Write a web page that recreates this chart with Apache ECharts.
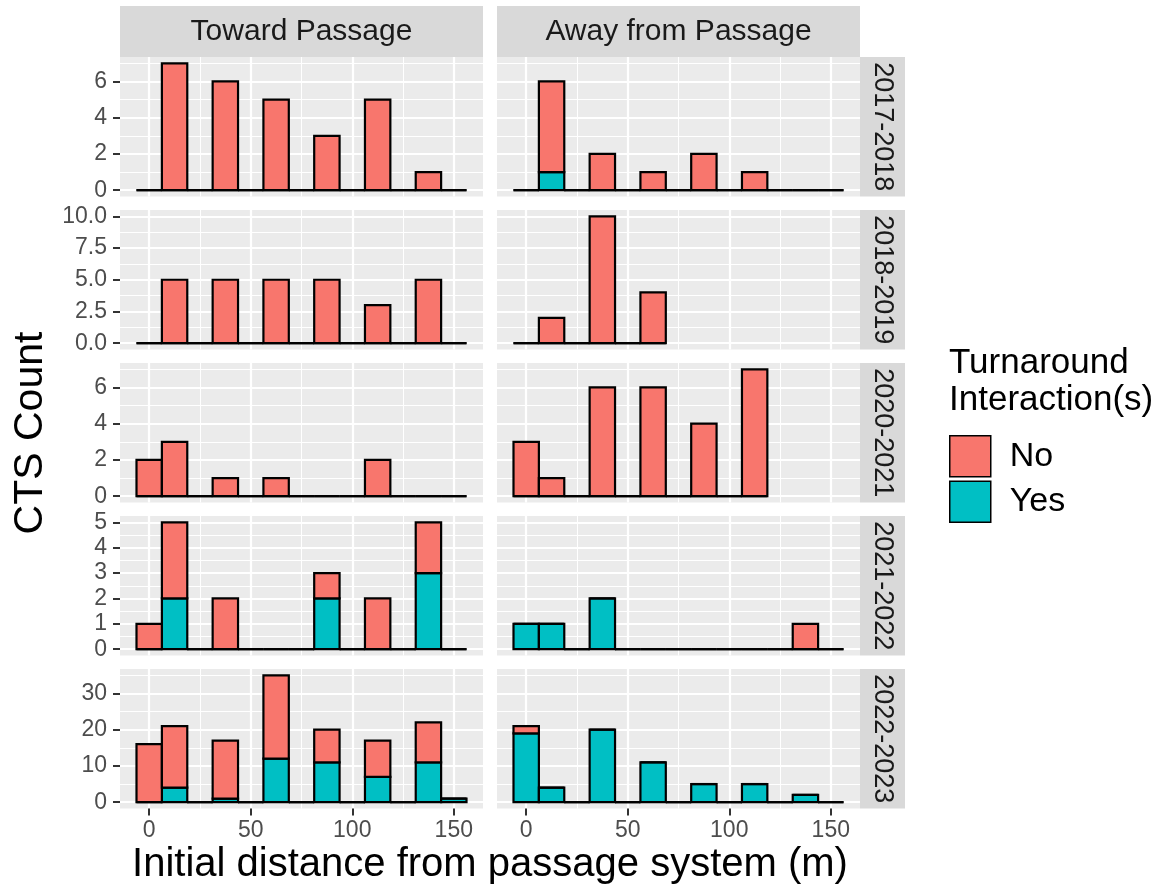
<!DOCTYPE html>
<html><head><meta charset="utf-8">
<script src="https://cdn.jsdelivr.net/npm/echarts@6/dist/echarts.min.js"></script>
<style>html,body{margin:0;padding:0;background:#fff}#c{width:1161px;height:892px}</style>
</head><body><div id="c"></div>
<script>
// ---------------- DATA ----------------
const binCenters = [0, 12.5, 25, 37.5, 50, 62.5, 75, 87.5, 100, 112.5, 125, 137.5, 150];
const binWidth = 12.5;
const columnNames = ['Toward Passage', 'Away from Passage'];
const yearNames = ['2017-2018', '2018-2019', '2020-2021', '2021-2022', '2022-2023'];
const fillNames = ['No', 'Yes'];

// Toward Passage counts per bin
const toward2017No  = [0, 7, 0, 6, 0, 5, 0, 3, 0, 5, 0, 1, 0];
const toward2017Yes = [0, 0, 0, 0, 0, 0, 0, 0, 0, 0, 0, 0, 0];
const toward2018No  = [0, 5, 0, 5, 0, 5, 0, 5, 0, 3, 0, 5, 0];
const toward2018Yes = [0, 0, 0, 0, 0, 0, 0, 0, 0, 0, 0, 0, 0];
const toward2020No  = [2, 3, 0, 1, 0, 1, 0, 0, 0, 2, 0, 0, 0];
const toward2020Yes = [0, 0, 0, 0, 0, 0, 0, 0, 0, 0, 0, 0, 0];
const toward2021No  = [1, 3, 0, 2, 0, 0, 0, 1, 0, 2, 0, 2, 0];
const toward2021Yes = [0, 2, 0, 0, 0, 0, 0, 2, 0, 0, 0, 3, 0];
const toward2022No  = [16, 17, 0, 16, 0, 23, 0, 9, 0, 10, 0, 11, 0];
const toward2022Yes = [0, 4, 0, 1, 0, 12, 0, 11, 0, 7, 0, 11, 1];

// Away from Passage counts per bin
const away2017No  = [0, 5, 0, 2, 0, 1, 0, 2, 0, 1, 0, 0, 0];
const away2017Yes = [0, 1, 0, 0, 0, 0, 0, 0, 0, 0, 0, 0, 0];
const away2018No  = [0, 2, 0, 10, 0, 4];
const away2018Yes = [0, 0, 0, 0, 0, 0];
const away2020No  = [3, 1, 0, 6, 0, 6, 0, 4, 0, 7];
const away2020Yes = [0, 0, 0, 0, 0, 0, 0, 0, 0, 0];
const away2021No  = [0, 0, 0, 0, 0, 0, 0, 0, 0, 0, 0, 1, 0];
const away2021Yes = [1, 1, 0, 2, 0, 0, 0, 0, 0, 0, 0, 0, 0];
const away2022No  = [2, 0, 0, 0, 0, 0, 0, 0, 0, 0, 0, 0, 0];
const away2022Yes = [19, 4, 0, 20, 0, 11, 0, 5, 0, 5, 0, 2, 0];

// Axis ticks
const xMajorTicks = [0, 50, 100, 150];
const xMinorTicks = [25, 75, 125];
const yTicks2017 = [0, 2, 4, 6];           const yMinor2017 = [1, 3, 5, 7];
const yTicks2018 = [0, 2.5, 5, 7.5, 10];   const yMinor2018 = [1.25, 3.75, 6.25, 8.75];
const yLabels2018 = ['0.0', '2.5', '5.0', '7.5', '10.0'];
const yTicks2020 = [0, 2, 4, 6];           const yMinor2020 = [1, 3, 5, 7];
const yTicks2021 = [0, 1, 2, 3, 4, 5];     const yMinor2021 = [0.5, 1.5, 2.5, 3.5, 4.5];
const yTicks2022 = [0, 10, 20, 30];        const yMinor2022 = [5, 15, 25, 35];

// ---------------- BUILD ----------------
const panels = [
  [[toward2017No, toward2017Yes], [away2017No, away2017Yes]],
  [[toward2018No, toward2018Yes], [away2018No, away2018Yes]],
  [[toward2020No, toward2020Yes], [away2020No, away2020Yes]],
  [[toward2021No, toward2021Yes], [away2021No, away2021Yes]],
  [[toward2022No, toward2022Yes], [away2022No, away2022Yes]]
];
const rowTicks = [yTicks2017, yTicks2018, yTicks2020, yTicks2021, yTicks2022];
const rowMinor = [yMinor2017, yMinor2018, yMinor2020, yMinor2021, yMinor2022];
const rowLabelFmt = [null, v => { const i = yTicks2018.indexOf(v); return i >= 0 ? yLabels2018[i] : String(v); }, null, null, null];

const FONT = '"Liberation Sans", Arial, sans-serif';
const COLORS = {No: '#F8766D', Yes: '#00BFC4'};
const colLeft = [120, 497], panelW = 363;
const rowTop = [57, 210, 363, 516, 669], panelH = 139.5;
const xMin = -6.25 - 0.05 * 162.5, xMax = 156.25 + 0.05 * 162.5;

const grids = [], xAxes = [], yAxes = [], series = [];

function renderItem(params, api) {
  const c = api.value(0), y0 = api.value(1), y1 = api.value(2);
  const fill = api.value(3) === 1 ? COLORS.Yes : COLORS.No;
  const pTL = api.coord([c - binWidth / 2, y1]);
  const pBR = api.coord([c + binWidth / 2, y0]);
  if (y1 === y0) {
    return {type: 'line', shape: {x1: pTL[0], y1: pTL[1], x2: pBR[0], y2: pBR[1]},
            style: {stroke: '#000', lineWidth: 2.2}};
  }
  return {type: 'rect',
          shape: {x: pTL[0], y: pTL[1], width: pBR[0] - pTL[0], height: pBR[1] - pTL[1]},
          style: {fill: fill, stroke: '#000', lineWidth: 2.2}};
}

for (let r = 0; r < 5; r++) {
  let rmax = 0;
  for (let c = 0; c < 2; c++) {
    const [no, yes] = panels[r][c];
    no.forEach((v, i) => { rmax = Math.max(rmax, v + yes[i]); });
  }
  const yMin = -0.05 * rmax, yMax = rmax * 1.05;
  for (let c = 0; c < 2; c++) {
    const g = r * 2 + c;
    grids.push({left: colLeft[c], top: rowTop[r], width: panelW, height: panelH,
                show: true, backgroundColor: '#EBEBEB', borderWidth: 0, containLabel: false});
    const isBottom = r === 4, isLeft = c === 0;
    xAxes.push({gridIndex: g, type: 'value', min: xMin, max: xMax, position: 'bottom',
      axisLine: {show: false, onZero: false},
      axisTick: {show: isBottom, customValues: xMajorTicks, length: 7, lineStyle: {color: '#333', width: 2}},
      axisLabel: {show: isBottom, customValues: xMajorTicks, fontSize: 23, color: '#4D4D4D', margin: 11, fontFamily: FONT},
      splitLine: {show: true, lineStyle: {color: '#FFFFFF', width: 2.2}}});
    xAxes.push({gridIndex: g, type: 'value', min: xMin, max: xMax, position: 'bottom',
      axisLine: {show: false, onZero: false},
      axisTick: {show: false, customValues: xMinorTicks},
      axisLabel: {show: false},
      splitLine: {show: true, lineStyle: {color: '#FFFFFF', width: 1.1}}});
    const yLab = {show: isLeft, customValues: rowTicks[r], fontSize: 23, color: '#4D4D4D', margin: 13, fontFamily: FONT};
    if (rowLabelFmt[r]) yLab.formatter = rowLabelFmt[r];
    yAxes.push({gridIndex: g, type: 'value', min: yMin, max: yMax, position: 'left',
      axisLine: {show: false, onZero: false},
      axisTick: {show: isLeft, customValues: rowTicks[r], length: 7, lineStyle: {color: '#333', width: 2}},
      axisLabel: yLab,
      splitLine: {show: true, lineStyle: {color: '#FFFFFF', width: 2.2}}});
    yAxes.push({gridIndex: g, type: 'value', min: yMin, max: yMax, position: 'left',
      axisLine: {show: false, onZero: false},
      axisTick: {show: false, customValues: rowMinor[r]},
      axisLabel: {show: false},
      splitLine: {show: true, lineStyle: {color: '#FFFFFF', width: 1.1}}});

    const [no, yes] = panels[r][c];
    const yesData = yes.map((v, i) => [binCenters[i], 0, v, 1]);
    const noData = no.map((v, i) => [binCenters[i], yes[i], yes[i] + v, 0]);
    series.push({type: 'custom', name: 'Yes', xAxisIndex: g * 2, yAxisIndex: g * 2,
      renderItem, data: yesData, encode: {x: 0, y: [1, 2]}, itemStyle: {color: COLORS.Yes}, z: 3});
    series.push({type: 'custom', name: 'No', xAxisIndex: g * 2, yAxisIndex: g * 2,
      renderItem, data: noData, encode: {x: 0, y: [1, 2]}, itemStyle: {color: COLORS.No}, z: 3});
  }
}

const graphics = [];
for (let c = 0; c < 2; c++) {
  graphics.push({type: 'rect', left: colLeft[c], top: 6, shape: {width: panelW, height: 51}, style: {fill: '#D9D9D9'}, z: 1});
  graphics.push({type: 'text', x: colLeft[c] + panelW / 2, y: 31.5,
    style: {text: columnNames[c], fill: '#1A1A1A', font: '30px ' + FONT, textAlign: 'center', textVerticalAlign: 'middle'}, z: 2});
}
for (let r = 0; r < 5; r++) {
  graphics.push({type: 'rect', left: 860, top: rowTop[r], shape: {width: 45, height: panelH}, style: {fill: '#D9D9D9'}, z: 1});
  graphics.push({type: 'text', x: 882.5, y: rowTop[r] + panelH / 2, rotation: -Math.PI / 2,
    style: {text: yearNames[r], fill: '#1A1A1A', font: '27px ' + FONT, textAlign: 'center', textVerticalAlign: 'middle'}, z: 2});
}
graphics.push({type: 'text', x: 490, y: 865,
  style: {text: 'Initial distance from passage system (m)', fill: '#000', font: '40px ' + FONT, textAlign: 'center', textVerticalAlign: 'middle'}});
graphics.push({type: 'text', x: 31, y: 433, rotation: Math.PI / 2,
  style: {text: 'CTS Count', fill: '#000', font: '41px ' + FONT, textAlign: 'center', textVerticalAlign: 'middle'}});
graphics.push({type: 'text', x: 949, y: 363,
  style: {text: 'Turnaround', fill: '#000', font: '35px ' + FONT, textAlign: 'left', textVerticalAlign: 'middle'}});
graphics.push({type: 'text', x: 949, y: 400,
  style: {text: 'Interaction(s)', fill: '#000', font: '35px ' + FONT, textAlign: 'left', textVerticalAlign: 'middle'}});

const option = {
  animation: false,
  backgroundColor: '#FFFFFF',
  grid: grids, xAxis: xAxes, yAxis: yAxes, series: series,
  legend: {
    data: fillNames, orient: 'vertical', left: 949, top: 435, padding: 0,
    itemWidth: 41, itemHeight: 41, itemGap: 3, icon: 'rect', selectedMode: false,
    itemStyle: {borderColor: '#000', borderWidth: 1.5},
    textStyle: {fontSize: 34, color: '#000', fontFamily: FONT, padding: [0, 0, 0, 14]}
  },
  graphic: graphics
};
const chart = echarts.init(document.getElementById('c'), null, {renderer: 'canvas'});
chart.setOption(option);
</script>
</body></html>
